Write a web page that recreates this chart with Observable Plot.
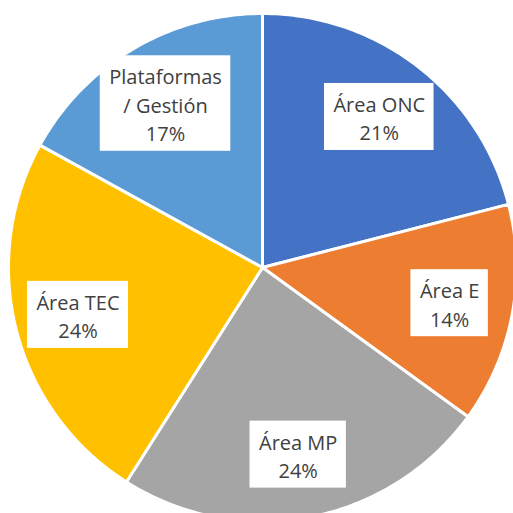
<!DOCTYPE html>
<html>
<head>
<meta charset="utf-8">
<script src="https://cdn.jsdelivr.net/npm/d3@7"></script>
<script src="https://cdn.jsdelivr.net/npm/@observablehq/plot@0.6"></script>
<style>
  html, body { margin: 0; padding: 0; background: white; overflow: hidden; }
</style>
</head>
<body>
<div id="chart"></div>
<script>
// Data
const categories = ["Área ONC", "Área E", "Área MP", "Área TEC", "Plataformas / Gestión"];
const percents = [21, 14, 24, 24, 17];
const labelNames = ["Área ONC", "Área E", "Área MP", "Área TEC", "Plataformas\n/ Gestión"];
const colors = ["#4472C4", "#ED7D31", "#A5A5A5", "#FFC000", "#5B9BD5"];

// Layout constants
const W = 513, H = 513, CX = 262, CY = 267, R = 254;
const FONT = "'Open Sans', sans-serif";
const FS = 20, LH = 28.5, PADX = 9, PADY = 5, LABEL_R = 0.75;

const rows = categories.map((name, i) => ({name, value: percents[i], label: labelNames[i] + "\n" + percents[i] + "%"}));
const arcs = d3.pie().sort(null).value(d => d.value)(rows);

// Slice outlines (center + arc sampled along circle)
const slicePts = arcs.flatMap(a => {
  const n = Math.max(2, Math.ceil((a.endAngle - a.startAngle) / (Math.PI / 180)));
  const pts = [{name: a.data.name, x: 0, y: 0}];
  for (let i = 0; i <= n; i++) {
    const t = a.startAngle + (a.endAngle - a.startAngle) * i / n;
    pts.push({name: a.data.name, x: Math.sin(t), y: Math.cos(t)});
  }
  return pts;
});

// Label boxes
const ctx = document.createElement("canvas").getContext("2d");
ctx.font = `${FS}px ${FONT}`;
const labels = arcs.map(a => {
  const mid = (a.startAngle + a.endAngle) / 2;
  const lines = a.data.label.split("\n");
  const tw = d3.max(lines, l => ctx.measureText(l).width);
  const hw = (tw / 2 + PADX) / R;
  const hh = (lines.length * LH / 2 + PADY) / R;
  const x = LABEL_R * Math.sin(mid), y = LABEL_R * Math.cos(mid);
  return {name: a.data.name, label: a.data.label, x, y, x1: x - hw, x2: x + hw, y1: y - hh, y2: y + hh};
});

const chart = Plot.plot({
  width: W,
  height: H,
  margin: 0,
  x: {domain: [-CX / R, (W - CX) / R], axis: null},
  y: {domain: [-(H - CY) / R, CY / R], axis: null},
  color: {domain: categories, range: colors},
  style: {background: "white"},
  marks: [
    Plot.line(slicePts, {x: "x", y: "y", z: "name", fill: "name", stroke: "white", strokeWidth: 3, strokeLinejoin: "round", curve: "linear-closed"}),
    Plot.rect(labels, {x1: "x1", x2: "x2", y1: "y1", y2: "y2", fill: "white"}),
    Plot.text(labels, {x: "x", y: "y", text: "label", fontSize: FS, fontFamily: FONT, fill: "#404040", lineHeight: LH / FS})
  ]
});
document.getElementById("chart").appendChild(chart);
</script>
</body>
</html>
